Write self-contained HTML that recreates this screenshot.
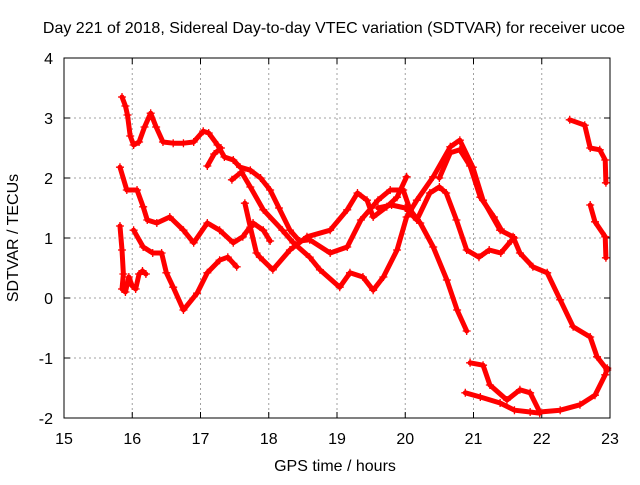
<!DOCTYPE html>
<html><head><meta charset="utf-8"><style>
body{margin:0;background:#fff}
svg text{font-family:"Liberation Sans",sans-serif;font-size:16px;fill:#000}
</style></head><body>
<svg id="chart" width="640" height="480" viewBox="0 0 640 480" xmlns="http://www.w3.org/2000/svg">
<rect width="640" height="480" fill="#fff"/>
<g id="grid"></g>
<g id="ticks"></g>
<g id="series"></g>
<rect x="64" y="58" width="546" height="360" fill="none" stroke="#000" stroke-width="1"/>
<text x="334" y="33" text-anchor="middle">Day 221 of 2018, Sidereal Day-to-day VTEC variation (SDTVAR) for receiver ucoe</text>
<text x="335" y="471" text-anchor="middle">GPS time / hours</text>
<text transform="translate(18,238) rotate(-90)" text-anchor="middle">SDTVAR / TECUs</text>
</svg>
<script>
const xTicks=[15,16,17,18,19,20,21,22,23];
const yTicks=[-2,-1,0,1,2,3,4];
const trackA=[[15.85,3.35],[15.9,3.2],[15.93,3.05],[15.97,2.7],[16.02,2.55],[16.1,2.6],[16.18,2.85],[16.27,3.08],[16.35,2.85],[16.45,2.6],[16.6,2.58],[16.75,2.58],[16.9,2.6],[17.04,2.78],[17.12,2.75],[17.25,2.55],[17.35,2.35],[17.48,2.3],[17.58,2.18],[17.73,2.13],[17.88,2.0],[18.02,1.8],[18.15,1.5],[18.31,1.13],[18.45,0.95],[18.6,0.97],[18.9,0.75],[19.15,0.85],[19.35,1.3],[19.6,1.63],[19.78,1.8],[19.97,1.8],[20.07,1.47],[20.22,1.25],[20.41,0.85],[20.61,0.3],[20.76,-0.2],[20.9,-0.55]];
const trackA2=[[17.1,2.2],[17.2,2.4],[17.3,2.5]];
const trackE=[[17.46,1.97],[17.6,2.1],[17.73,1.85],[17.92,1.47],[18.2,1.13],[18.36,0.92],[18.6,0.68],[18.75,0.47],[19.04,0.18],[19.19,0.42],[19.38,0.35],[19.53,0.13],[19.68,0.35],[19.88,0.8],[20.02,1.35],[20.17,1.63],[20.41,2.02],[20.66,2.52],[20.8,2.63],[20.99,2.18],[21.14,1.63],[21.39,1.13],[21.58,1.02],[21.68,0.75],[21.87,0.52],[22.08,0.42],[22.27,-0.03],[22.46,-0.48],[22.71,-0.65],[22.81,-0.98],[22.96,-1.2]];
const trackF=[[20.5,2.0],[20.66,2.42],[20.8,2.47],[20.95,2.2],[21.1,1.68],[21.3,1.35],[21.4,1.15]];
const trackB=[[15.82,2.18],[15.92,1.8],[16.07,1.8],[16.16,1.52],[16.22,1.3],[16.36,1.25],[16.55,1.35],[16.75,1.13],[16.9,0.92],[17.1,1.25],[17.28,1.13],[17.48,0.92],[17.62,1.02],[17.77,1.25],[17.92,1.13],[18.02,0.95]];
const trackG=[[17.65,1.58],[17.73,1.18],[17.82,0.75],[17.87,0.68],[18.06,0.47],[18.31,0.8],[18.56,1.02],[18.9,1.13],[19.15,1.47],[19.3,1.75],[19.44,1.63],[19.53,1.35],[19.73,1.52],[19.88,1.68],[20.02,2.02]];
const trackI=[[19.6,1.5],[19.8,1.55],[20.0,1.5],[20.17,1.3],[20.36,1.75],[20.5,1.85],[20.6,1.75],[20.75,1.3],[20.9,0.8],[21.08,0.68],[21.23,0.8],[21.4,0.75],[21.55,0.95],[21.6,1.0]];
const trackC=[[16.02,1.13],[16.16,0.85],[16.3,0.75],[16.43,0.75],[16.5,0.42],[16.6,0.18],[16.75,-0.2],[16.95,0.08],[17.1,0.42],[17.28,0.63],[17.4,0.68],[17.53,0.52]];
const trackD=[[15.82,1.2],[15.85,0.8],[15.87,0.4],[15.85,0.15],[15.9,0.1],[15.95,0.35],[16.0,0.2],[16.05,0.15],[16.1,0.4],[16.15,0.45],[16.2,0.4]];
const trackLow1=[[20.95,-1.08],[21.14,-1.12],[21.24,-1.45],[21.49,-1.7],[21.68,-1.53],[21.83,-1.58],[21.97,-1.9],[22.27,-1.87],[22.56,-1.78],[22.78,-1.62],[22.93,-1.28],[22.96,-1.17]];
const trackLow2=[[20.88,-1.58],[21.1,-1.65],[21.39,-1.75],[21.6,-1.87],[21.83,-1.9],[21.97,-1.92]];
const trackR1=[[22.41,2.97],[22.63,2.88],[22.71,2.5],[22.85,2.47],[22.93,2.3],[22.94,1.92]];
const trackR2=[[22.71,1.55],[22.78,1.27],[22.93,1.02],[22.94,0.67]];
const tracks=[trackA,trackA2,trackE,trackF,trackB,trackG,trackI,trackC,trackD,trackLow1,trackLow2,trackR1,trackR2];

const NS="http://www.w3.org/2000/svg";
const X=h=>64+(h-15)*68.25;
const Y=v=>298-v*60;
const grid=document.getElementById('grid'),ticks=document.getElementById('ticks'),ser=document.getElementById('series');
function mk(tag,attrs,parent){const e=document.createElementNS(NS,tag);for(const k in attrs)e.setAttribute(k,attrs[k]);parent.appendChild(e);return e;}
xTicks.forEach(t=>{
  const x=X(t);
  if(t>15&&t<23){const g=mk('line',{x1:x,y1:58,x2:x,y2:418,stroke:'#a0a0a0','stroke-dasharray':'2,3'},grid);
  
  }
  const tk=mk('path',{d:`M${x},418v-6M${x},58v6`,stroke:'#000'},ticks);
  
  
  const l=mk('text',{x:x,y:444,'text-anchor':'middle'},ticks);l.textContent=t;
  
  
});
yTicks.forEach(t=>{
  const y=Y(t);
  if(t>-2&&t<4){const g=mk('line',{x1:64,y1:y,x2:610,y2:y,stroke:'#a0a0a0','stroke-dasharray':'2,3'},grid);
  
  }
  const tk=mk('path',{d:`M64,${y}h6M610,${y}h-6`,stroke:'#000'},ticks);
  
  
  const l=mk('text',{x:53,y:y+6,'text-anchor':'end'},ticks);l.textContent=t;
  
  
});
tracks.forEach(tr=>{
  const pl=mk('polyline',{points:tr.map(p=>X(p[0])+','+Y(p[1])).join(' '),fill:'none',stroke:'#ff0000','stroke-width':5,'stroke-linejoin':'round','stroke-linecap':'round'},ser);
  
  
  tr.forEach(p=>{
    const x=X(p[0]),y=Y(p[1]);
    const m=mk('path',{d:`M${x-4},${y}h8M${x},${y-4}v8`,stroke:'#ff0000','stroke-width':1.3},ser);
    
    
  });
});
</script>
</body></html>
